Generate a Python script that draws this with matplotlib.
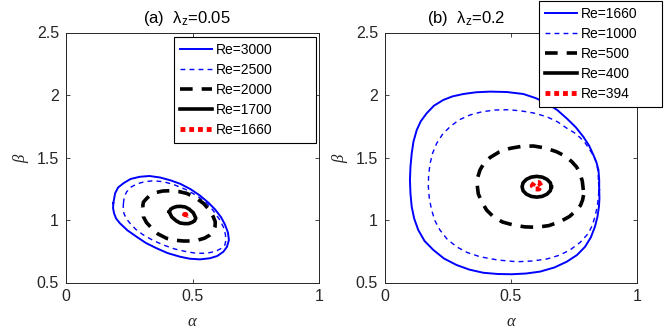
import numpy as np
import matplotlib
matplotlib.use("Agg")
import matplotlib.pyplot as plt

plt.rcParams['font.family'] = ['Liberation Sans', 'DejaVu Sans']
plt.rcParams['mathtext.fontset'] = 'custom'
plt.rcParams['mathtext.rm'] = 'Liberation Sans'
plt.rcParams['mathtext.it'] = 'Liberation Serif:italic'
plt.rcParams['mathtext.bf'] = 'Liberation Sans:bold'

# ---------------- Panel (a): lambda_z = 0.05 ----------------
labels_a = ["Re=3000", "Re=2500", "Re=2000", "Re=1700", "Re=1660"]

a3000_alpha = [0.187, 0.194, 0.206, 0.227, 0.255, 0.292, 0.330, 0.372, 0.412, 0.451, 0.492, 0.530, 0.562, 0.589,
               0.612, 0.628, 0.640, 0.644, 0.636, 0.622, 0.598, 0.569, 0.530, 0.490, 0.451, 0.402, 0.358, 0.316,
               0.279, 0.243, 0.213, 0.198, 0.190, 0.186]
a3000_beta  = [1.134, 1.213, 1.260, 1.294, 1.328, 1.346, 1.352, 1.340, 1.318, 1.290, 1.247, 1.195, 1.140, 1.085,
               1.025, 0.965, 0.900, 0.840, 0.785, 0.746, 0.712, 0.694, 0.685, 0.690, 0.706, 0.735, 0.774, 0.816,
               0.866, 0.917, 0.974, 1.012, 1.053, 1.095]

a2500_alpha = [0.227, 0.230, 0.240, 0.256, 0.279, 0.310, 0.345, 0.385, 0.424, 0.472, 0.517, 0.553, 0.582, 0.605,
               0.622, 0.630, 0.632, 0.628, 0.615, 0.590, 0.556, 0.515, 0.477, 0.430, 0.385, 0.343, 0.306, 0.276,
               0.253, 0.238, 0.229, 0.226]
a2500_beta  = [1.134, 1.185, 1.226, 1.262, 1.288, 1.306, 1.314, 1.306, 1.285, 1.245, 1.195, 1.140, 1.075, 1.010,
               0.945, 0.885, 0.840, 0.800, 0.774, 0.748, 0.734, 0.734, 0.746, 0.768, 0.800, 0.838, 0.880, 0.925,
               0.974, 1.012, 1.053, 1.095]

a2000_alpha = [0.303, 0.306, 0.319, 0.335, 0.358, 0.383, 0.411, 0.445, 0.477, 0.512, 0.543, 0.566, 0.582, 0.590,
               0.589, 0.582, 0.569, 0.548, 0.523, 0.494, 0.464, 0.430, 0.398, 0.364, 0.339, 0.318, 0.306]
a2000_beta  = [1.106, 1.143, 1.173, 1.202, 1.221, 1.232, 1.234, 1.228, 1.213, 1.178, 1.134, 1.082, 1.026, 0.985,
               0.946, 0.908, 0.880, 0.855, 0.840, 0.832, 0.832, 0.838, 0.853, 0.888, 0.934, 0.980, 1.026]

a1700_alpha = [0.408, 0.414, 0.425, 0.438, 0.453, 0.471, 0.486, 0.503, 0.513, 0.508, 0.497, 0.484, 0.469, 0.451,
               0.436, 0.418]
a1700_beta  = [1.066, 1.087, 1.100, 1.108, 1.109, 1.104, 1.088, 1.058, 1.015, 0.993, 0.980, 0.971, 0.971, 0.976,
               0.993, 1.024]

a1660_alpha = [0.475, 0.473, 0.469, 0.467, 0.469, 0.473]
a1660_beta  = [1.030, 1.045, 1.045, 1.030, 1.015, 1.015]

# ---------------- Panel (b): lambda_z = 0.2 ----------------
labels_b = ["Re=1660", "Re=1000", "Re=500", "Re=400", "Re=394"]

b1660_alpha = [0.850, 0.850, 0.847, 0.839, 0.827, 0.810, 0.787, 0.757, 0.721, 0.684, 0.642, 0.597, 0.549, 0.483,
               0.417, 0.362, 0.311, 0.268, 0.231, 0.194, 0.165, 0.142, 0.126, 0.113, 0.106, 0.101, 0.099, 0.101,
               0.106, 0.116, 0.132, 0.157, 0.192, 0.234, 0.284, 0.335, 0.390, 0.447, 0.503, 0.560, 0.615, 0.672,
               0.721, 0.762, 0.794, 0.817, 0.833, 0.843, 0.849, 0.851]
b1660_beta  = [1.240, 1.320, 1.400, 1.462, 1.520, 1.595, 1.666, 1.742, 1.813, 1.879, 1.934, 1.976, 2.008, 2.024,
               2.027, 2.022, 2.008, 1.989, 1.960, 1.914, 1.853, 1.790, 1.720, 1.628, 1.533, 1.425, 1.320, 1.212,
               1.106, 1.010, 0.920, 0.832, 0.760, 0.692, 0.640, 0.603, 0.578, 0.568, 0.566, 0.572, 0.587, 0.620,
               0.666, 0.720, 0.786, 0.862, 0.946, 1.025, 1.106, 1.175]

b1000_alpha = [0.847, 0.845, 0.840, 0.829, 0.813, 0.795, 0.774, 0.750, 0.721, 0.685, 0.642, 0.590, 0.536, 0.487,
               0.437, 0.385, 0.337, 0.293, 0.258, 0.228, 0.205, 0.189, 0.179, 0.173, 0.172, 0.176, 0.185, 0.198,
               0.218, 0.246, 0.284, 0.326, 0.377, 0.447, 0.523, 0.585, 0.642, 0.692, 0.734, 0.775, 0.807, 0.823,
               0.833, 0.842, 0.847, 0.849]
b1000_beta  = [1.320, 1.390, 1.453, 1.510, 1.560, 1.615, 1.660, 1.700, 1.735, 1.785, 1.826, 1.856, 1.874, 1.882,
               1.880, 1.866, 1.840, 1.800, 1.746, 1.685, 1.613, 1.535, 1.453, 1.360, 1.266, 1.170, 1.080, 0.995,
               0.920, 0.848, 0.786, 0.740, 0.706, 0.680, 0.666, 0.672, 0.688, 0.718, 0.760, 0.822, 0.893, 0.958,
               1.026, 1.105, 1.186, 1.255]

b500_alpha = [0.787, 0.783, 0.774, 0.760, 0.741, 0.714, 0.681, 0.637, 0.589, 0.541, 0.496, 0.452, 0.417, 0.392,
              0.377, 0.368, 0.366, 0.370, 0.384, 0.403, 0.430, 0.466, 0.509, 0.555, 0.602, 0.650, 0.694, 0.732,
              0.761, 0.776, 0.784, 0.788]
b500_beta  = [1.240, 1.310, 1.373, 1.425, 1.467, 1.512, 1.546, 1.576, 1.592, 1.589, 1.573, 1.543, 1.500, 1.453,
              1.400, 1.342, 1.280, 1.210, 1.146, 1.080, 1.026, 0.984, 0.960, 0.945, 0.942, 0.955, 0.986, 1.028,
              1.080, 1.118, 1.160, 1.200]

b400_alpha = [0.660, 0.656, 0.643, 0.624, 0.602, 0.580, 0.561, 0.548, 0.544, 0.548, 0.561, 0.580, 0.602, 0.624,
              0.643, 0.656]
b400_beta  = [1.266, 1.298, 1.325, 1.343, 1.349, 1.343, 1.325, 1.298, 1.266, 1.234, 1.207, 1.189, 1.183, 1.189,
              1.207, 1.234]

b394_alpha = [0.619, 0.611, 0.593, 0.584, 0.593, 0.611]
b394_beta  = [1.274, 1.300, 1.300, 1.274, 1.248, 1.248]

x_ticks = [0, 0.5, 1]
x_ticklabels = ["0", "0.5", "1"]
y_ticks = [0.5, 1, 1.5, 2, 2.5]
y_ticklabels = ["0.5", "1", "1.5", "2", "2.5"]

styles = [
    dict(color='#0000ff', lw=1.4, ls='-'),
    dict(color='#0000ff', lw=1.0, ls=(0, (3.5, 3.0))),
    dict(color='black', lw=2.6, ls=(0, (3.5, 2.5))),
    dict(color='black', lw=2.6, ls='-'),
    dict(color='#ff0000', lw=3.5, ls=(0, (1.0, 0.8))),
]


def closed(a, b):
    return np.append(a, a[0]), np.append(b, b[0])


fig = plt.figure(figsize=(6.64, 3.32), dpi=100)
W, H = 664.0, 332.0
ax1 = fig.add_axes([66 / W, 49.5 / H, 253 / W, 250 / H])
ax2 = fig.add_axes([385 / W, 49.5 / H, 252 / W, 250 / H])

curves_a = [(a3000_alpha, a3000_beta), (a2500_alpha, a2500_beta), (a2000_alpha, a2000_beta),
            (a1700_alpha, a1700_beta), (a1660_alpha, a1660_beta)]
curves_b = [(b1660_alpha, b1660_beta), (b1000_alpha, b1000_beta), (b500_alpha, b500_beta),
            (b400_alpha, b400_beta), (b394_alpha, b394_beta)]

for ax, curves, labels in [(ax1, curves_a, labels_a), (ax2, curves_b, labels_b)]:
    for (a, b), st, lab in zip(curves, styles, labels):
        xa, yb = closed(a, b)
        ax.plot(xa, yb, color=st['color'], lw=st['lw'], linestyle=st['ls'],
                dash_capstyle='butt', solid_joinstyle='round', dash_joinstyle='round', label=lab)
    ax.set_xlim(0, 1)
    ax.set_ylim(0.5, 2.5)
    ax.set_xticks(x_ticks)
    ax.set_xticklabels(x_ticklabels)
    ax.set_yticks(y_ticks)
    ax.set_yticklabels(y_ticklabels)
    ax.tick_params(direction='in', length=3, width=0.6, top=True, right=True,
                   labelsize=11.5, colors='#262626', pad=5)
    for sp in ax.spines.values():
        sp.set_color('#262626')
        sp.set_linewidth(0.7)
    ax.set_xlabel(r'$\alpha$', fontsize=12, color='#262626', labelpad=7)
    ax.set_ylabel(r'$\beta$', fontsize=12, color='#262626', labelpad=4)

leg_kw = dict(fontsize=10, handlelength=2.3, handletextpad=0.3, labelspacing=0.43,
              borderpad=0.45, borderaxespad=0, fancybox=False, framealpha=1,
              edgecolor='black', bbox_transform=fig.transFigure, loc='upper left', mode='expand')
l1 = ax1.legend(bbox_to_anchor=(174 / W, 1 - 135 / H, 142 / W, 98 / H), **leg_kw)
l1.get_frame().set_linewidth(0.8)
l2 = ax2.legend(bbox_to_anchor=(539 / W, 1 - 100 / H, 123 / W, 99 / H), **leg_kw)
l2.get_frame().set_linewidth(0.8)

fig.text(186.5 / W, 1 - 23 / H, r'(a)  $\mathrm{\lambda_z}$=0.05', ha='center', va='baseline',
         fontsize=12, color='black')
fig.text(466 / W, 1 - 23 / H, r'(b)  $\mathrm{\lambda_z}$=0.2', ha='center', va='baseline',
         fontsize=12, color='black')

fig.savefig('out.png', dpi=100)
